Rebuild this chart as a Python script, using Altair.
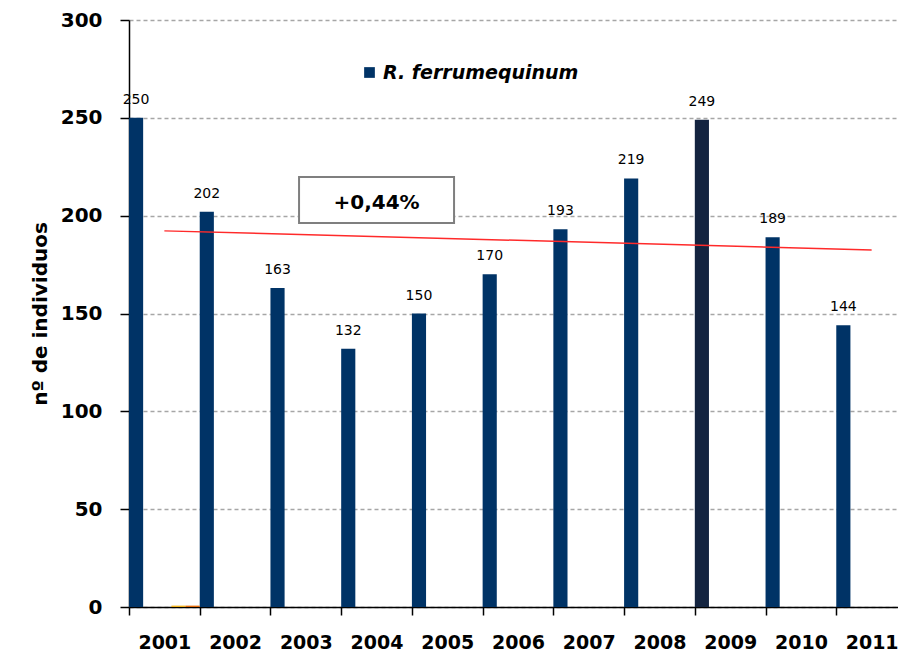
import altair as alt
import pandas as pd

years = ["2001", "2002", "2003", "2004", "2005", "2006", "2007", "2008", "2009", "2010", "2011"]
ferrum = [250, 202, 163, 132, 150, 170, 193, 219, 249, 189, 144]
series_names = ["R. ferrumequinum", "serie 2", "serie 3", "serie 4", "serie 5"]
series_colors = ["#003366", "#4f81bd", "#9bbb59", "#f2b21c", "#e46c0a"]
serie2 = [0, 0, 0, 0, 0, 0, 0, 0, 0, 0, 0]
serie3 = [0, 0, 0, 0, 0, 0, 0, 0, 0, 0, 0]
serie4 = [0.7, 0, 0, 0, 0, 0, 0, 0, 0, 0, 0]
serie5 = [0.7, 0, 0, 0, 0, 0, 0, 0, 0, 0, 0]
highlight_year = "2009"
highlight_color = "#142440"
annot_text = ["+0,44%"]
annot_year = ["2004"]
annot_value = [208]

rows = []
for name, vals in zip(series_names, [ferrum, serie2, serie3, serie4, serie5]):
    for i, (yr, v) in enumerate(zip(years, vals)):
        rows.append({"year": yr, "idx": i, "series": name, "value": v})
df = pd.DataFrame(rows)
annot = pd.DataFrame({"year": annot_year, "value": annot_value, "text": annot_text})

FONT = "DejaVu Sans"

x_enc = alt.X(
    "year:O",
    sort=years,
    scale=alt.Scale(type="band", paddingInner=0, paddingOuter=0, range=[0, 778]),
    axis=alt.Axis(
        title=None, labelAngle=0, tickBand="extent", labelFont=FONT, labelFontSize=19,
        labelFontWeight="bold", labelColor="black", labelPadding=18, tickSize=8,
        tickColor="black", domainColor="black", tickWidth=1.5, domainWidth=1.5,
    ),
)
y_enc = alt.Y(
    "value:Q",
    scale=alt.Scale(domain=[0, 300]),
    axis=alt.Axis(
        values=[0, 50, 100, 150, 200, 250, 300], title="nº de individuos",
        titleFont=FONT, titleFontSize=20, titleFontWeight="bold", titleColor="black",
        titlePadding=10, labelFont=FONT, labelFontSize=20, labelFontWeight="bold",
        labelColor="black", labelPadding=18, tickSize=9, tickColor="black",
        domainColor="black", tickWidth=1.5, domainWidth=1.5,
        gridDash=[4, 3], gridColor="#a6a6a6", gridWidth=1.5,
    ),
)
xoff = alt.XOffset("series:N", sort=series_names,
                   scale=alt.Scale(domain=series_names, paddingInner=0, paddingOuter=0))

fill_enc = alt.condition(
    f"datum.year == '{highlight_year}' && datum.series == '{series_names[0]}'",
    alt.value(highlight_color),
    alt.Fill(
        "series:N",
        scale=alt.Scale(domain=series_names, range=series_colors),
        legend=alt.Legend(
            values=[series_names[0]], orient="none", legendX=231, legendY=43, title=None,
            symbolType="square", symbolSize=115, symbolStrokeWidth=0,
            labelFont=FONT, labelFontSize=19, labelFontStyle="italic", labelFontWeight="bold",
            labelColor="black", labelOffset=4, labelLimit=400, padding=0,
        ),
    ),
)

bars = alt.Chart(df).mark_bar(stroke=None).encode(x=x_enc, y=y_enc, xOffset=xoff, fill=fill_enc)

labels = alt.Chart(df).transform_filter(
    alt.datum.series == series_names[0]
).mark_text(baseline="alphabetic", dy=-14, font=FONT, fontSize=14, color="black").encode(
    x=alt.X("year:O", sort=years), y="value:Q", xOffset=xoff, text="value:Q"
)

trend = alt.Chart(df).transform_filter(
    alt.datum.series == series_names[0]
).transform_regression("idx", "value", extent=[0, 10]).transform_calculate(
    year="toString(2001 + round(datum.idx))"
).mark_line(color="#ff2a2a", strokeWidth=1.5).encode(
    x=alt.X("year:O", sort=years), y="value:Q"
)

box = alt.Chart(annot).mark_point(
    shape="M-1,-0.297L1,-0.297L1,0.297L-1,0.297Z", size=155 * 155, filled=False,
    fill="white", fillOpacity=1, stroke="#7f7f7f", strokeWidth=2, opacity=1,
).encode(x=alt.X("year:O", sort=years), y="value:Q")

box_text = alt.Chart(annot).mark_text(
    font=FONT, fontSize=20, fontWeight="bold", color="black", baseline="middle", dy=3
).encode(x=alt.X("year:O", sort=years), y="value:Q", text="text:N")

top_band = alt.Chart(annot).mark_rect(color="#d6d0c8").encode(
    x=alt.value(-121), x2=alt.value(780), y=alt.value(-19), y2=alt.value(-16)
)

chart = alt.layer(bars, trend, box, box_text, labels, top_band).properties(
    width=769, height=587,
    padding={"left": 121, "top": 12, "right": 0, "bottom": 49},
    autosize=alt.AutoSizeParams(type="none"),
    background="white",
).configure_view(strokeWidth=0)

chart.save("out.html", embed_options={"renderer": "svg", "actions": False})
